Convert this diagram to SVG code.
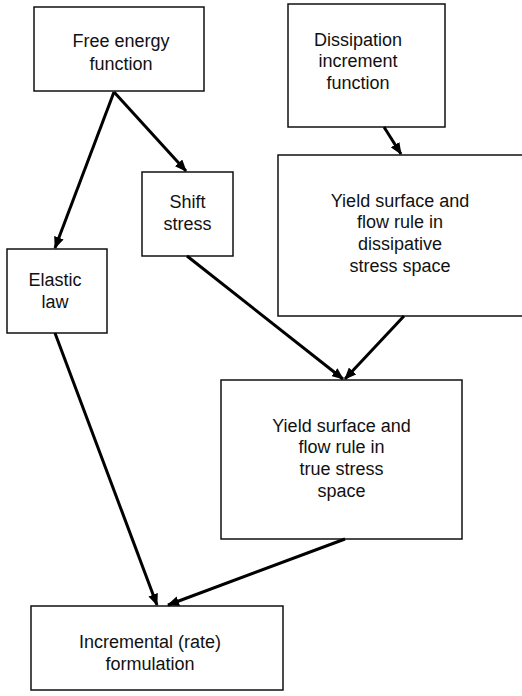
<svg xmlns="http://www.w3.org/2000/svg" width="522" height="696" viewBox="0 0 522 696">
<style>
.box{fill:#fff;stroke:#111;stroke-width:1.5}
.t{font-family:"Liberation Sans",Arial,sans-serif;font-size:18px;fill:#111;text-anchor:middle}
.c{stroke:#000;stroke-width:3;fill:none;marker-end:url(#ah)}
</style>
<defs>
<marker id="ah" viewBox="0 0 12 10" refX="11" refY="5" markerWidth="12" markerHeight="10" markerUnits="userSpaceOnUse" orient="auto">
<path d="M0,0 L12,5 L0,10 Z" fill="#000"/>
</marker>
</defs>
<rect width="522" height="696" fill="#fff"/>
<g id="n-free">
<rect class="box" x="34" y="7" width="170" height="84"/>
<text class="t" x="121" y="47">Free energy</text>
<text class="t" x="121" y="70">function</text>
</g>
<g id="n-diss">
<rect class="box" x="288" y="4" width="157" height="123"/>
<text class="t" x="358" y="46">Dissipation</text>
<text class="t" x="358" y="67">increment</text>
<text class="t" x="358" y="89">function</text>
</g>
<g id="n-shift">
<rect class="box" x="142" y="172" width="91" height="84"/>
<text class="t" x="187.5" y="208">Shift</text>
<text class="t" x="187.5" y="230">stress</text>
</g>
<g id="n-elastic">
<rect class="box" x="7" y="249" width="100" height="84"/>
<text class="t" x="55" y="286">Elastic</text>
<text class="t" x="55" y="308">law</text>
</g>
<g id="n-ydiss">
<rect class="box" x="278" y="155" width="260" height="161"/>
<text class="t" x="400" y="207">Yield surface and</text>
<text class="t" x="400" y="228">flow rule in</text>
<text class="t" x="400" y="250">dissipative</text>
<text class="t" x="400" y="272">stress space</text>
</g>
<g id="n-ytrue">
<rect class="box" x="221" y="380" width="241" height="159"/>
<text class="t" x="341.5" y="432">Yield surface and</text>
<text class="t" x="341.5" y="453">flow rule in</text>
<text class="t" x="341.5" y="475">true stress</text>
<text class="t" x="341.5" y="497">space</text>
</g>
<g id="n-incr">
<rect class="box" x="31" y="606" width="252" height="84"/>
<text class="t" x="150" y="648">Incremental (rate)</text>
<text class="t" x="150" y="670">formulation</text>
</g>
<g id="connectors">
<line class="c" x1="114" y1="92" x2="55" y2="248"/>
<line class="c" x1="114" y1="92" x2="186" y2="171"/>
<line class="c" x1="384" y1="127" x2="401" y2="154"/>
<line class="c" x1="187" y1="256" x2="343" y2="379"/>
<line class="c" x1="404" y1="316" x2="345" y2="379"/>
<line class="c" x1="55" y1="333" x2="157" y2="605"/>
<line class="c" x1="345" y1="539" x2="168" y2="605"/>
</g>
</svg>
